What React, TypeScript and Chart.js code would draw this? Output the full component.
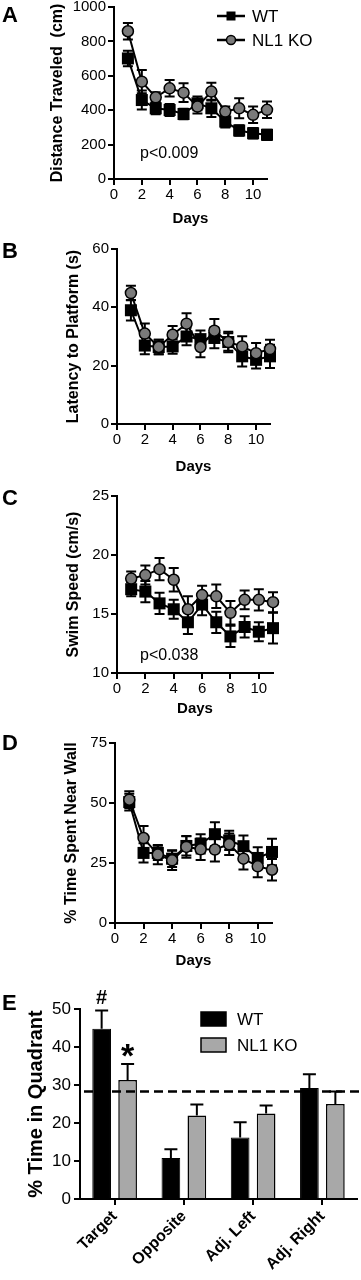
import React, { useEffect, useRef } from "react";
import { Chart, registerables } from "chart.js";

Chart.register(...registerables);

const FONT = "'Liberation Sans', Arial, Helvetica, sans-serif";
Chart.defaults.font.family = FONT;
Chart.defaults.color = "#000";

// ---------- DATA ----------
const days = [1, 2, 3, 4, 5, 6, 7, 8, 9, 10, 11];
const dayTicks = [0, 2, 4, 6, 8, 10];

const distWT = [701, 459, 411, 401, 378, 440, 411, 334, 282, 266, 257];
const distWTErr = [45, 55, 35, 35, 30, 40, 50, 35, 30, 30, 30];
const distKO = [859, 566, 475, 527, 502, 421, 508, 392, 411, 373, 402];
const distKOErr = [48, 67, 30, 48, 54, 40, 52, 30, 58, 48, 48];

const latWT = [39, 26.9, 26.4, 26.6, 30, 29.1, 29.5, 28.1, 23.2, 22, 23.2];
const latWTErr = [3.5, 3, 2.5, 2.5, 3, 3, 3.5, 3, 3.5, 3, 4];
const latKO = [44.9, 31, 26.4, 30.6, 34.4, 26.4, 32, 28.1, 26.6, 24.3, 25.7];
const latKOErr = [2.5, 3.5, 2.5, 3, 3.6, 3.5, 4, 3.5, 3.5, 3.5, 3.2];

const swimWT = [17.1, 16.9, 15.9, 15.4, 14.3, 15.8, 14.3, 13.1, 13.9, 13.5, 13.8];
const swimWTErr = [0.6, 0.9, 0.9, 0.8, 1.0, 0.9, 0.9, 0.9, 0.9, 0.8, 1.3];
const swimKO = [18.0, 18.3, 18.8, 17.9, 15.4, 16.6, 16.5, 15.1, 16.2, 16.2, 16.0];
const swimKOErr = [0.6, 0.8, 0.95, 1.0, 1.1, 0.8, 1.0, 1.0, 0.8, 0.9, 0.85];

const wallWT = [50.4, 29.2, 29.2, 26.8, 32.1, 33, 37, 34.4, 32, 27.1, 29.6];
const wallWTErr = [3.5, 4, 3, 3.5, 4, 4, 5, 4, 4.5, 4.5, 5.5];
const wallKO = [51.4, 35.4, 28.5, 26.1, 31.7, 30.7, 30.6, 32.8, 26.8, 23.6, 22.2];
const wallKOErr = [3.5, 5, 4, 4, 4.5, 4.5, 5, 4.5, 4.5, 4.5, 4.5];

const quadrants = ["Target", "Opposite", "Adj. Left", "Adj. Right"];
const quadWT = [44.8, 10.8, 16.2, 29.2];
const quadWTErr = [4.8, 2.3, 4.0, 3.6];
const quadKO = [31.3, 22.0, 22.5, 25.0];
const quadKOErr = [4.2, 2.9, 2.1, 3.3];
const quadWTMarks = ["#", "", "", ""];
const quadKOMarks = ["*", "", "", ""];
const chanceLevel = 28.3;

const seriesNames = ["WT", "NL1 KO"];

// ---------- PLUGINS ----------
function drawErrors(chart: any, index: number, both: boolean) {
  const ds: any = chart.data.datasets[index];
  if (!ds.errors) return;
  const meta = chart.getDatasetMeta(index);
  const yS = chart.scales[meta.yAxisID];
  const ctx = chart.ctx;
  const cap = ds.errorCap || 5;
  ctx.save();
  ctx.strokeStyle = "#000";
  ctx.lineWidth = ds.errorWidth || 2;
  meta.data.forEach((el: any, j: number) => {
    const raw = ds.data[j];
    const v = typeof raw === "number" ? raw : raw.y;
    const e = ds.errors[j];
    const x = el.x;
    const yt = yS.getPixelForValue(v + e);
    const yb = both ? yS.getPixelForValue(v - e) : yS.getPixelForValue(v);
    ctx.beginPath();
    ctx.moveTo(x, yt);
    ctx.lineTo(x, yb);
    ctx.moveTo(x - cap, yt);
    ctx.lineTo(x + cap, yt);
    if (both) {
      ctx.moveTo(x - cap, yb);
      ctx.lineTo(x + cap, yb);
    }
    ctx.stroke();
  });
  ctx.restore();
}

const errorBarPlugin = {
  id: "errorBars",
  beforeDatasetDraw(chart: any, args: any) {
    const ds: any = chart.data.datasets[args.index];
    if (ds.errorMode === "both") drawErrors(chart, args.index, true);
  },
  afterDatasetDraw(chart: any, args: any) {
    const ds: any = chart.data.datasets[args.index];
    if (ds.errorMode === "up") drawErrors(chart, args.index, false);
  },
};
Chart.register(errorBarPlugin);

type LineSpec = {
  height: number;
  padTop: number;
  padRight: number;
  yWidth: number;
  xHeight: number;
  yMin: number;
  yMax: number;
  yStep: number;
  yTitle: string;
  yTitlePad: number;
  xTitlePad: number;
  wt: number[];
  wtErr: number[];
  ko: number[];
  koErr: number[];
  legend?: { x: number; y1: number; y2: number };
  pText?: { text: string; x: number; y: number };
};

function axisStyle() {
  return {
    grid: {
      display: true,
      drawOnChartArea: false,
      drawTicks: true,
      tickLength: 6,
      tickColor: "#000",
      tickWidth: 2,
      color: "#000",
      lineWidth: 2,
    },
    border: { display: true, color: "#000", width: 2 },
  };
}

function lineConfig(p: LineSpec): any {
  const annot = {
    id: "lineAnnot",
    afterDraw(chart: any) {
      const ctx = chart.ctx;
      ctx.save();
      if (p.pText) {
        ctx.font = `16px ${FONT}`;
        ctx.fillStyle = "#000";
        ctx.textAlign = "left";
        ctx.textBaseline = "middle";
        ctx.fillText(p.pText.text, p.pText.x, p.pText.y);
      }
      if (p.legend) {
        const L = p.legend;
        const cx = L.x + 14;
        [L.y1, L.y2].forEach((y, k) => {
          ctx.strokeStyle = "#000";
          ctx.lineWidth = 2.5;
          ctx.beginPath();
          ctx.moveTo(L.x, y);
          ctx.lineTo(L.x + 28, y);
          ctx.stroke();
          if (k === 0) {
            ctx.fillStyle = "#000";
            ctx.fillRect(cx - 4.5, y - 4.5, 9, 9);
          } else {
            ctx.beginPath();
            ctx.arc(cx, y, 4.5, 0, Math.PI * 2);
            ctx.fillStyle = "#7a7a7a";
            ctx.fill();
            ctx.lineWidth = 1.5;
            ctx.stroke();
          }
          ctx.fillStyle = "#000";
          ctx.font = `17px ${FONT}`;
          ctx.textAlign = "left";
          ctx.textBaseline = "middle";
          ctx.fillText(seriesNames[k], L.x + 35, y + 1);
        });
      }
      ctx.restore();
    },
  };
  return {
    type: "line",
    data: {
      datasets: [
        {
          label: seriesNames[0],
          data: days.map((d, i) => ({ x: d, y: p.wt[i] })),
          errors: p.wtErr,
          errorMode: "both",
          errorCap: 5,
          order: 1,
          borderColor: "#000",
          borderWidth: 2,
          pointStyle: "rect",
          pointRadius: 8.5,
          pointBackgroundColor: "#000",
          pointBorderColor: "#000",
          pointBorderWidth: 0,
          clip: false,
          tension: 0,
        },
        {
          label: seriesNames[1],
          data: days.map((d, i) => ({ x: d, y: p.ko[i] })),
          errors: p.koErr,
          errorMode: "both",
          errorCap: 5,
          order: 0,
          borderColor: "#000",
          borderWidth: 2,
          pointStyle: "circle",
          pointRadius: 5.5,
          pointBackgroundColor: "#7a7a7a",
          pointBorderColor: "#000",
          pointBorderWidth: 1.5,
          clip: false,
          tension: 0,
        },
      ],
    },
    options: {
      responsive: false,
      animation: false,
      events: [],
      layout: { padding: { top: p.padTop, right: p.padRight, bottom: 0, left: 0 } },
      plugins: { legend: { display: false }, tooltip: { enabled: false } },
      scales: {
        x: {
          type: "linear",
          min: 0,
          max: 11,
          afterFit: (s: any) => {
            s.height = p.xHeight;
          },
          ticks: {
            stepSize: 2,
            includeBounds: false,
            autoSkip: false,
            maxRotation: 0,
            padding: 1,
            color: "#000",
            font: { size: 15 },
            callback: (v: any) => (dayTicks.includes(v) ? String(v) : ""),
          },
          ...axisStyle(),
          title: {
            display: true,
            text: "Days",
            color: "#000",
            font: { size: 15, weight: "bold" },
            padding: { top: 0, bottom: p.xTitlePad },
          },
        },
        y: {
          min: p.yMin,
          max: p.yMax,
          afterFit: (s: any) => {
            s.width = p.yWidth;
          },
          ticks: {
            stepSize: p.yStep,
            padding: 2,
            color: "#000",
            font: { size: 15 },
            callback: (v: any) => String(v),
          },
          ...axisStyle(),
          title: {
            display: true,
            text: p.yTitle,
            color: "#000",
            font: { size: 16, weight: "bold" },
            padding: { top: p.yTitlePad, bottom: 0 },
          },
        },
      },
    },
    plugins: [annot],
  };
}

function barConfig(): any {
  const annot = {
    id: "barAnnot",
    afterDatasetsDraw(chart: any) {
      const ctx = chart.ctx;
      const yS = chart.scales.y;
      const area = chart.chartArea;
      ctx.save();
      // chance level dashed line
      const yc = yS.getPixelForValue(chanceLevel);
      ctx.strokeStyle = "#000";
      ctx.lineWidth = 2.5;
      ctx.setLineDash([9, 5]);
      ctx.beginPath();
      ctx.moveTo(area.left + 4, yc);
      ctx.lineTo(area.right + 3, yc);
      ctx.stroke();
      ctx.setLineDash([]);
      // significance marks
      chart.data.datasets.forEach((ds: any, i: number) => {
        const meta = chart.getDatasetMeta(i);
        meta.data.forEach((el: any, j: number) => {
          const m = ds.marks[j];
          if (!m) return;
          const top = yS.getPixelForValue(ds.data[j] + ds.errors[j]);
          ctx.font = m === "*" ? `bold 34px ${FONT}` : `bold 20px ${FONT}`;
          ctx.fillStyle = "#000";
          ctx.textAlign = "center";
          ctx.textBaseline = "alphabetic";
          const mt = ctx.measureText(m);
          const gap = 7;
          ctx.fillText(m, el.x, top - gap - mt.actualBoundingBoxDescent);
        });
      });
      ctx.restore();
    },
    afterDraw(chart: any) {
      const ctx = chart.ctx;
      ctx.save();
      const x = 201;
      const ys = [48, 74];
      const fills = ["#000", "#a8a8a8"];
      ys.forEach((y, k) => {
        ctx.fillStyle = fills[k];
        ctx.fillRect(x, y - 7, 25, 14);
        ctx.strokeStyle = "#000";
        ctx.lineWidth = 1.5;
        ctx.strokeRect(x, y - 7, 25, 14);
        ctx.fillStyle = "#000";
        ctx.font = `17px ${FONT}`;
        ctx.textAlign = "left";
        ctx.textBaseline = "middle";
        ctx.fillText(seriesNames[k], x + 36, y + 1);
      });
      ctx.restore();
    },
  };
  return {
    type: "bar",
    data: {
      labels: quadrants,
      datasets: [
        {
          label: seriesNames[0],
          data: quadWT,
          errors: quadWTErr,
          errorMode: "up",
          errorCap: 6.5,
          marks: quadWTMarks,
          backgroundColor: "#000",
          borderColor: "#000",
          borderWidth: 1,
          categoryPercentage: 0.75,
          barPercentage: 0.72,
        },
        {
          label: seriesNames[1],
          data: quadKO,
          errors: quadKOErr,
          errorMode: "up",
          errorCap: 6.5,
          marks: quadKOMarks,
          backgroundColor: "#a8a8a8",
          borderColor: "#000",
          borderWidth: 1.5,
          categoryPercentage: 0.75,
          barPercentage: 0.72,
        },
      ],
    },
    options: {
      responsive: false,
      animation: false,
      events: [],
      layout: { padding: { top: 38, right: 4, bottom: 0, left: 0 } },
      plugins: { legend: { display: false }, tooltip: { enabled: false } },
      scales: {
        x: {
          afterFit: (s: any) => {
            s.height = 81;
          },
          ticks: {
            autoSkip: false,
            minRotation: 45,
            maxRotation: 45,
            padding: 2,
            color: "#000",
            font: { size: 16, weight: "bold" },
          },
          ...axisStyle(),
          grid: { ...axisStyle().grid, offset: false },
        },
        y: {
          min: 0,
          max: 50,
          afterFit: (s: any) => {
            s.width = 80;
          },
          ticks: {
            stepSize: 10,
            padding: 3,
            color: "#000",
            font: { size: 17 },
            callback: (v: any) => String(v),
          },
          ...axisStyle(),
          title: {
            display: true,
            text: "% Time in Quadrant",
            color: "#000",
            font: { size: 20, weight: "bold" },
            padding: { top: 24, bottom: 0 },
          },
        },
      },
    },
    plugins: [annot],
  };
}

// ---------- PANELS ----------
const panelA: LineSpec = {
  height: 242,
  padTop: 19,
  padRight: 94,
  yWidth: 114,
  xHeight: 51,
  yMin: 0,
  yMax: 1000,
  yStep: 200,
  yTitle: "Distance Traveled  (cm)",
  yTitlePad: 48.4,
  xTitlePad: 2,
  wt: distWT,
  wtErr: distWTErr,
  ko: distKO,
  koErr: distKOErr,
  legend: { x: 217, y1: 28, y2: 52 },
  pText: { text: "p<0.009", x: 140, y: 166 },
};

const panelB: LineSpec = {
  height: 247,
  padTop: 19,
  padRight: 91,
  yWidth: 117,
  xHeight: 53,
  yMin: 0,
  yMax: 60,
  yStep: 20,
  yTitle: "Latency to Platform (s)",
  yTitlePad: 64.4,
  xTitlePad: 1,
  wt: latWT,
  wtErr: latWTErr,
  ko: latKO,
  koErr: latKOErr,
};

const panelC: LineSpec = {
  height: 243,
  padTop: 19,
  padRight: 88,
  yWidth: 117,
  xHeight: 47,
  yMin: 10,
  yMax: 25,
  yStep: 5,
  yTitle: "Swim Speed (cm/s)",
  yTitlePad: 64.4,
  xTitlePad: 2,
  wt: swimWT,
  wtErr: swimWTErr,
  ko: swimKO,
  koErr: swimKOErr,
  pText: { text: "p<0.038", x: 140, y: 179 },
};

const panelD: LineSpec = {
  height: 251,
  padTop: 23,
  padRight: 89,
  yWidth: 115,
  xHeight: 48,
  yMin: 0,
  yMax: 75,
  yStep: 25,
  yTitle: "% Time Spent Near Wall",
  yTitlePad: 62.4,
  xTitlePad: 1,
  wt: wallWT,
  wtErr: wallWTErr,
  ko: wallKO,
  koErr: wallKOErr,
};

function ChartCanvas({ top, height, make }: { top: number; height: number; make: () => any }) {
  const ref = useRef<HTMLCanvasElement>(null);
  useEffect(() => {
    const chart = new Chart(ref.current as HTMLCanvasElement, make());
    return () => chart.destroy();
  }, []);
  return (
    <canvas
      ref={ref}
      width={361}
      height={height}
      style={{ position: "absolute", left: 0, top, width: 361, height, display: "block" }}
    />
  );
}

const letterStyle = (top: number): React.CSSProperties => ({
  position: "absolute",
  left: 2,
  top,
  font: `bold 22px ${FONT}`,
  lineHeight: "22px",
  color: "#000",
});

export default function App() {
  return (
    <div
      style={{
        position: "absolute",
        left: 0,
        top: 0,
        width: 361,
        height: 1280,
        background: "#fff",
        overflow: "hidden",
        fontFamily: FONT,
      }}
    >
      <ChartCanvas top={-12} height={panelA.height} make={() => lineConfig(panelA)} />
      <ChartCanvas top={230} height={panelB.height} make={() => lineConfig(panelB)} />
      <ChartCanvas top={477} height={panelC.height} make={() => lineConfig(panelC)} />
      <ChartCanvas top={720} height={panelD.height} make={() => lineConfig(panelD)} />
      <ChartCanvas top={971} height={309} make={() => barConfig()} />
      <div style={letterStyle(4)}>A</div>
      <div style={letterStyle(240)}>B</div>
      <div style={letterStyle(487)}>C</div>
      <div style={letterStyle(732)}>D</div>
      <div style={letterStyle(992)}>E</div>
    </div>
  );
}
